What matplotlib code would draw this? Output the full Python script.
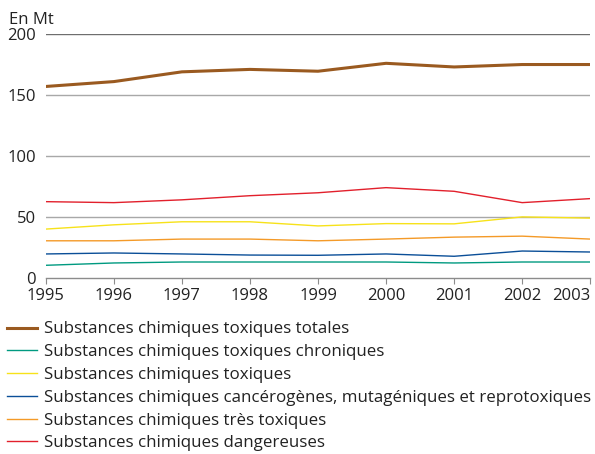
import matplotlib.pyplot as plt
from matplotlib.lines import Line2D

plt.rcParams['font.family'] = ['Open Sans', 'DejaVu Sans']

annees = [1995, 1996, 1997, 1998, 1999, 2000, 2001, 2002, 2003]

totales = [157, 161, 169, 171, 169.5, 176, 173, 175, 175]
chroniques = [10.3, 12.2, 13, 13, 13, 13, 12.2, 13, 13]
toxiques = [40, 43.5, 46, 46, 42.6, 44.5, 44.3, 50, 49]
cmr = [19.6, 20.4, 19.6, 18.7, 18.5, 19.6, 17.7, 22, 21.2]
tres_toxiques = [30.4, 30.4, 31.8, 31.8, 30.4, 31.8, 33.4, 34.2, 31.8]
dangereuses = [62.5, 61.7, 64, 67.4, 69.8, 74, 71, 61.7, 65]

labels = [
    "Substances chimiques toxiques totales",
    "Substances chimiques toxiques chroniques",
    "Substances chimiques toxiques",
    "Substances chimiques cancérogènes, mutagéniques et reprotoxiques",
    "Substances chimiques très toxiques",
    "Substances chimiques dangereuses",
]
couleurs = ["#9a5a20", "#009a80", "#f7e21a", "#0b4f98", "#f49a28", "#e2202c"]
series = [totales, chroniques, toxiques, cmr, tres_toxiques, dangereuses]
largeurs = [2.2, 1.0, 1.0, 1.0, 1.0, 1.0]

fig = plt.figure(figsize=(5.95, 4.54), dpi=100)
ax = fig.add_axes([0.077, 0.388, 0.915, 0.537])

for y in [50, 100, 150]:
    ax.axhline(y, color="#a8a8a8", lw=1.0, zorder=1)
ax.axhline(200, color="#6e6e6e", lw=1.0, zorder=1)

# dessin dans l'ordre inverse pour garder la courbe totale devant
for vals, col, lw in reversed(list(zip(series, couleurs, largeurs))):
    ax.plot(annees, vals, color=col, lw=lw, zorder=3)

ax.set_xlim(1995, 2003)
ax.set_ylim(0, 200)
ax.set_xticks(annees)
ax.set_yticks([0, 50, 100, 150, 200])
for s in ["top", "right", "left"]:
    ax.spines[s].set_visible(False)
ax.spines["bottom"].set_color("#8c8c8c")
ax.spines["bottom"].set_linewidth(1.0)
ax.tick_params(axis="x", length=4, color="#8c8c8c", labelsize=12,
               labelcolor="#222222", pad=3)
ax.tick_params(axis="y", length=0, labelsize=12, labelcolor="#222222", pad=7)
# derniere annee alignee a droite pour rester dans le cadre
ax.get_xticklabels()[-1].set_horizontalalignment("right")

fig.text(0.015, 0.957, "En Mt", fontsize=12, color="#222222", va="center")

handles = [Line2D([], [], color=c, lw=lw) for c, lw in zip(couleurs, largeurs)]
fig.legend(handles, labels, loc="upper left", bbox_to_anchor=(0.012, 0.292),
           frameon=False, fontsize=12.2, handlelength=1.75, handletextpad=0.42,
           labelspacing=0.40, borderaxespad=0, borderpad=0, labelcolor="#222222")

fig.savefig("out.png", dpi=100)
